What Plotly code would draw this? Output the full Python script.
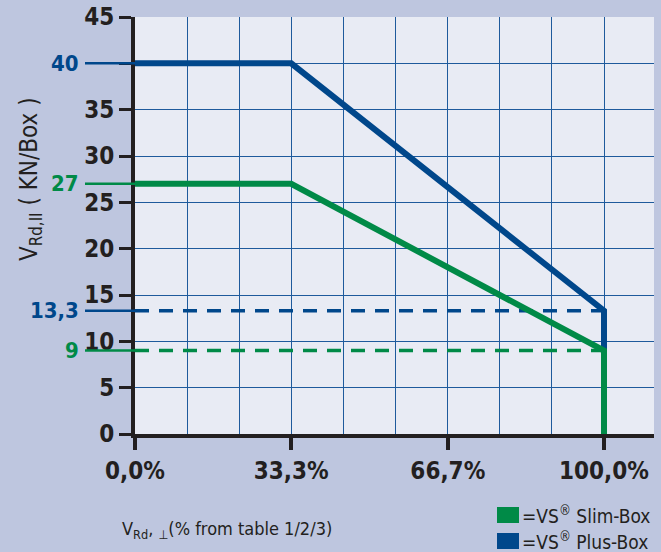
import plotly.graph_objects as go

# ---- data ----
x_pct = [0, 33.3, 100, 100]
plus_box = [40, 40, 13.3, 0]
slim_box = [27, 27, 9, 0]
ref_levels = [40, 27, 13.3, 9]
ref_labels = ["40", "27", "13,3", "9"]
ref_series = ["plus", "slim", "plus", "slim"]
dash_x = [0, 100]
x_tickvals = [0, 33.3, 66.7, 100]
x_ticktext = ["0,0%", "33,3%", "66,7%", "100,0%"]
y_tickvals = [0, 5, 10, 15, 20, 25, 30, 35, 40, 45]
y_ticktext = ["0", "5", "10", "15", "20", "25", "30", "35", "", "45"]
legend_names = ["=VS<sup>®</sup> Slim-Box", "=VS<sup>®</sup> Plus-Box"]
legend_series = ["slim", "plus"]

BLUE = "#00478b"
GREEN = "#008a47"
GRID = "#1e5a9c"
DARK = "#231f20"
PAPER = "#bec6df"
PLOTBG = "#e8ebf4"
NARROW = "DejaVu Sans Condensed, Liberation Sans Narrow, Liberation Sans, sans-serif"
REG = "DejaVu Sans Condensed, Liberation Sans, sans-serif"
col = {"plus": BLUE, "slim": GREEN}

fig = go.Figure()

fig.add_trace(go.Scatter(x=dash_x, y=[plus_box[2]] * 2, mode="lines",
                         line=dict(color=BLUE, width=3.5, dash="14px,10px"),
                         showlegend=False, hoverinfo="skip"))
fig.add_trace(go.Scatter(x=dash_x, y=[slim_box[2]] * 2, mode="lines",
                         line=dict(color=GREEN, width=3.5, dash="14px,10px"),
                         showlegend=False, hoverinfo="skip"))
fig.add_trace(go.Scatter(x=x_pct, y=plus_box, mode="lines",
                         line=dict(color=BLUE, width=6), showlegend=False))
fig.add_trace(go.Scatter(x=x_pct, y=slim_box, mode="lines",
                         line=dict(color=GREEN, width=6), showlegend=False))

PW = 654 - 135
PH = 434 - 17
shapes = []
annotations = []
for lvl, lab, s in zip(ref_levels, ref_labels, ref_series):
    shapes.append(dict(type="line", xref="paper", yref="y", x0=-50 / PW, x1=0,
                       y0=lvl, y1=lvl, line=dict(color=col[s], width=2.5),
                       layer="above"))
    annotations.append(dict(xref="paper", yref="y", x=-54 / PW, y=lvl, text=lab,
                            showarrow=False, xanchor="right", yanchor="middle",
                            font=dict(family=NARROW, size=22, color=col[s],
                                      weight="bold")))

annotations.append(dict(xref="paper", yref="paper", x=-105 / PW, y=(434 - 179) / PH,
                        text="V<sub>Rd,II</sub> ( KN/Box )", textangle=-90,
                        showarrow=False, xanchor="center", yanchor="middle",
                        font=dict(family=REG, size=24, color=DARK)))
annotations.append(dict(xref="paper", yref="paper", x=-15 / PW, y=-(530 - 434) / PH,
                        text="V<sub>Rd</sub>, <sub>⊥</sub>(% from table 1/2/3)",
                        showarrow=False, xanchor="left", yanchor="middle",
                        font=dict(family=REG, size=18, color=DARK)))

# legend (squares + labels)
for i, (nm, s) in enumerate(zip(legend_names, legend_series)):
    yc = 515 + 26 * i
    shapes.append(dict(type="rect", xref="paper", yref="paper",
                       x0=(497 - 135) / PW, x1=(519 - 135) / PW,
                       y0=(434 - yc + 8) / PH, y1=(434 - yc - 8) / PH,
                       fillcolor=col[s], line=dict(width=0)))
    annotations.append(dict(xref="paper", yref="paper", x=(520 - 135) / PW,
                            y=(434 - yc) / PH, text=nm, showarrow=False,
                            xanchor="left", yanchor="middle",
                            font=dict(family=REG, size=19, color=DARK)))

fig.update_layout(
    width=661, height=552,
    margin=dict(l=135, r=7, t=17, b=118),
    paper_bgcolor=PAPER, plot_bgcolor=PLOTBG,
    shapes=shapes, annotations=annotations, showlegend=False,
)
fig.update_xaxes(
    range=[0, PW / 4.69], tickvals=x_tickvals, ticktext=x_ticktext,
    ticks="outside", ticklen=12, tickwidth=4, tickcolor=DARK,
    tickfont=dict(family=NARROW, size=24, color=DARK, weight="bold"),
    showline=True, linecolor=DARK, linewidth=4,
    showgrid=True, gridcolor=GRID, gridwidth=1.3,
    minor=dict(dtick=100 / 9, tick0=0, showgrid=True, gridcolor=GRID,
               gridwidth=1.3, ticks=""),
    zeroline=False, fixedrange=True, automargin=False,
)
fig.update_yaxes(
    range=[0, 45], tickvals=y_tickvals, ticktext=y_ticktext,
    ticks="outside", ticklen=12, tickwidth=3, tickcolor=DARK,
    tickfont=dict(family=NARROW, size=24, color=DARK, weight="bold"),
    showline=True, linecolor=DARK, linewidth=4,
    showgrid=True, gridcolor=GRID, gridwidth=1.3,
    zeroline=False, fixedrange=True, automargin=False,
)

fig.write_html("out.html",
               config={"displayModeBar": False},
               post_script="document.body.style.margin='0';"
                           "document.body.style.background='" + PAPER + "';")
